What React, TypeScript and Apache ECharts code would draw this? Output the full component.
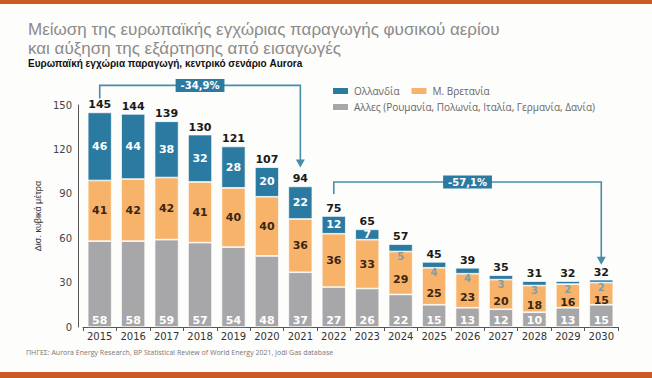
import React, { useEffect, useRef } from "react";
import * as echarts from "echarts";

const years = ["2015","2016","2017","2018","2019","2020","2021","2022","2023","2024","2025","2026","2027","2028","2029","2030"];
const other = [58,58,59,57,54,48,37,27,26,22,15,13,12,10,13,15];
const uk = [41,42,42,41,40,40,36,36,33,29,25,23,20,18,16,15];
const nl = [46,44,38,32,28,20,22,12,7,5,4,4,3,3,2,2];
const totals = [145,144,139,130,121,107,94,75,65,57,45,39,35,31,32,32];
const yMax = 150;
const yInterval = 30;
const changes = [
  { from: 0, to: 6, label: "-34,9%" },
  { from: 7, to: 15, label: "-57,1%" },
];
const seriesNames = ["Ολλανδία", "Μ. Βρετανία", "Αλλες (Ρουμανία, Πολωνία, Ιταλία, Γερμανία, Δανία)"];
const titleLines = ["Μείωση της ευρωπαϊκής εγχώριας παραγωγής φυσικού αερίου", "και αύξηση της εξάρτησης από εισαγωγές"];
const subtitle = "Ευρωπαϊκή εγχώρια παραγωγή, κεντρικό σενάριο Aurora";
const source = "ΠΗΓΕΣ: Aurora Energy Research, BP Statistical Review of World Energy 2021, Jodi Gas database";

const BLUE = "#2a7aa2";
const ORANGE = "#f8b36b";
const GREY = "#a7a7a9";
const LINE = "#4a8cab";
const NUM_FONT = "DejaVu Sans";
const TXT_FONT = "Open Sans";
const TITLE_FONT = "Liberation Sans";

// annotation layout offsets (pixels relative to bar tops)
const annLayout = [
  { startOff: 14, barOff: 27, tipOff: 19 },
  { startOff: 22, barOff: 34, tipOff: 15 },
];

export default function App() {
  const ref = useRef<HTMLDivElement>(null);
  useEffect(() => {
    if (!ref.current) return;
    const chart = echarts.init(ref.current, null, { renderer: "svg" });
    const smallBlue = (v: number) => v <= 5;
    const titleStyle = { fontSize: 17, lineHeight: 18, color: "#8b8b8b", fontWeight: "normal", fontFamily: TITLE_FONT };
    const option: any = {
      animation: false,
      backgroundColor: "#fdfdfb",
      title: [
        { text: titleLines[0], left: 28, top: 20, padding: 0, textStyle: titleStyle },
        { text: titleLines[1], left: 28, top: 39, padding: 0, textStyle: titleStyle },
        {
          text: subtitle,
          left: 28,
          top: 58,
          padding: 0,
          textStyle: { fontSize: 10, lineHeight: 11, color: "#111", fontWeight: "bold", fontFamily: TITLE_FONT },
        },
        {
          text: source,
          left: 26,
          top: 349,
          padding: 0,
          textStyle: { fontSize: 7, color: "#777", fontWeight: "normal", fontFamily: TXT_FONT },
        },
      ],
      legend: [
        {
          data: [seriesNames[0], seriesNames[1]],
          left: 331, top: 86, itemWidth: 17, itemHeight: 8, itemGap: 10, icon: "rect",
          padding: 0,
          textStyle: { fontSize: 10, color: "#666", fontFamily: TXT_FONT },
          selectedMode: false,
        },
        {
          data: [seriesNames[2]],
          left: 331, top: 102, itemWidth: 17, itemHeight: 8, icon: "rect",
          padding: 0,
          textStyle: { fontSize: 10, color: "#666", fontFamily: TXT_FONT },
          selectedMode: false,
        },
      ],
      grid: { left: 83, right: 34, top: 105, bottom: 51 },
      xAxis: {
        type: "category",
        data: years,
        axisLine: { lineStyle: { color: "#555", width: 1 } },
        axisTick: { show: true, length: 4, lineStyle: { color: "#555" } },
        axisLabel: { fontSize: 10, color: "#333", fontFamily: NUM_FONT, margin: 4 },
      },
      yAxis: {
        type: "value",
        min: 0,
        max: yMax,
        interval: yInterval,
        offset: 5,
        name: "Δισ. κυβικά μέτρα",
        nameLocation: "middle",
        nameGap: 29,
        nameTextStyle: { fontSize: 9, color: "#333", fontFamily: "Liberation Sans" },
        splitLine: { show: false },
        axisLine: { show: true, lineStyle: { color: "#555", width: 1 } },
        axisTick: { show: false },
        axisLabel: { fontSize: 10, color: "#444", fontFamily: NUM_FONT, margin: 6 },
      },
      series: [
        {
          name: seriesNames[2],
          type: "bar",
          stack: "s",
          barWidth: 24,
          data: other,
          itemStyle: { color: GREY, borderColor: "#fff", borderWidth: 0.7 },
          label: { show: true, position: "insideBottom", distance: 1, color: "#fff", fontWeight: "bold", fontSize: 11, fontFamily: NUM_FONT },
        },
        {
          name: seriesNames[1],
          type: "bar",
          stack: "s",
          data: uk.map((v, i) => ({
            value: v,
            label: { offset: [0, smallBlue(nl[i]) ? 7 : 0] },
          })),
          itemStyle: { color: ORANGE, borderColor: "#fff", borderWidth: 0.7 },
          label: { show: true, position: "inside", color: "#3a2612", fontWeight: "bold", fontSize: 11, fontFamily: NUM_FONT },
        },
        {
          name: seriesNames[0],
          type: "bar",
          stack: "s",
          data: nl.map((v) => ({
            value: v,
            label: smallBlue(v)
              ? { position: "bottom", distance: 0, color: "#7f9fa6", fontSize: 10 }
              : { position: "inside", color: "#fff" },
          })),
          itemStyle: { color: BLUE, borderColor: "#fff", borderWidth: 0.7 },
          label: { show: true, fontWeight: "bold", fontSize: 11, fontFamily: NUM_FONT },
        },
        {
          name: "total",
          type: "bar",
          stack: "s",
          data: totals.map(() => 0),
          itemStyle: { color: "transparent", borderWidth: 0 },
          label: {
            show: true,
            position: "top",
            distance: 2,
            formatter: (p: any) => String(totals[p.dataIndex]),
            color: "#1a1a1a",
            fontWeight: "bold",
            fontSize: 11,
            fontFamily: NUM_FONT,
          },
        },
      ],
    };
    chart.setOption(option);

    const top = (i: number) => {
      const stackSum = other[i] + uk[i] + nl[i];
      return chart.convertToPixel({ gridIndex: 0 } as any, [i, stackSum]) as number[];
    };
    const graphics: any[] = [
      { type: "rect", shape: { x: 0, y: 0, width: 652, height: 4 }, style: { fill: "#c85a22" }, z: 100 },
      { type: "rect", shape: { x: 0, y: 372, width: 652, height: 6 }, style: { fill: "#c85a22" }, z: 100 },
    ];
    changes.forEach((c, k) => {
      const L = annLayout[k];
      const a = top(c.from);
      const b = top(c.to);
      const hy = a[1] - L.barOff;
      const tipY = b[1] - L.tipOff;
      graphics.push({
        type: "polyline",
        shape: { points: [[a[0], a[1] - L.startOff], [a[0], hy], [b[0], hy], [b[0], tipY - 6]] },
        style: { stroke: LINE, lineWidth: 1.6, fill: "none" },
        z: 50,
      });
      graphics.push({
        type: "polygon",
        shape: { points: [[b[0] - 4.5, tipY - 8], [b[0] + 4.5, tipY - 8], [b[0], tipY]] },
        style: { fill: LINE },
        z: 50,
      });
      graphics.push({
        type: "text",
        x: (a[0] + b[0]) / 2,
        y: hy,
        style: {
          text: c.label,
          fill: "#fff",
          font: `bold 10px '${NUM_FONT}'`,
          align: "center",
          verticalAlign: "middle",
          backgroundColor: BLUE,
          padding: [2, 5, 1, 5],
        },
        z: 60,
      });
    });
    chart.setOption({ graphic: graphics });

    return () => chart.dispose();
  }, []);
  return <div ref={ref} style={{ position: "fixed", left: 0, top: 0, width: 652, height: 378 }} />;
}
